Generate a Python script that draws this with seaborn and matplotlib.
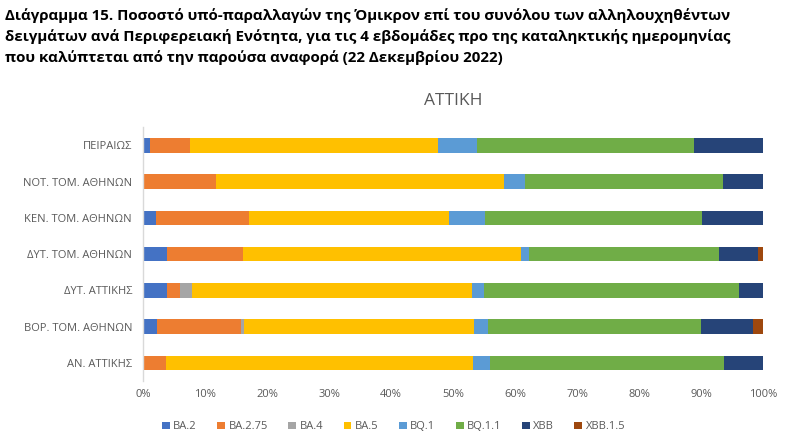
import numpy as np
import pandas as pd
import matplotlib
matplotlib.use("Agg")
import matplotlib.pyplot as plt
import seaborn as sns
from matplotlib.patches import Patch

regions = ["ΠΕΙΡΑΙΩΣ", "ΝΟΤ. ΤΟΜ. ΑΘΗΝΩΝ", "ΚΕΝ. ΤΟΜ. ΑΘΗΝΩΝ", "ΔΥΤ. ΤΟΜ. ΑΘΗΝΩΝ",
           "ΔΥΤ. ΑΤΤΙΚΗΣ", "ΒΟΡ. ΤΟΜ. ΑΘΗΝΩΝ", "ΑΝ. ΑΤΤΙΚΗΣ"]
variants = ["BA.2", "BA.2.75", "BA.4", "BA.5", "BQ.1", "BQ.1.1", "XBB", "XBB.1.5"]

ba2    = [1.1, 0.0, 2.0, 3.9, 3.9, 2.2, 0.0]
ba275  = [6.4, 11.7, 15.0, 12.2, 2.0, 13.5, 3.7]
ba4    = [0.0, 0.0, 0.0, 0.0, 1.9, 0.6, 0.0]
ba5    = [40.0, 46.5, 32.4, 44.9, 45.2, 37.1, 49.5]
bq1    = [6.3, 3.3, 5.8, 1.2, 2.0, 2.2, 2.8]
bq11   = [35.0, 32.0, 35.0, 30.7, 41.1, 34.3, 37.6]
xbb    = [11.2, 6.5, 9.8, 6.3, 3.9, 8.4, 6.4]
xbb15  = [0.0, 0.0, 0.0, 0.8, 0.0, 1.7, 0.0]

colors = ["#4472C4", "#ED7D31", "#A5A5A5", "#FFC000", "#5B9BD5", "#70AD47", "#264478", "#9E480E"]

series = [ba2, ba275, ba4, ba5, bq1, bq11, xbb, xbb15]
vals = np.array(series, dtype=float)
vals = vals / vals.sum(axis=0) * 100.0
cum = np.cumsum(vals, axis=0)

sns.set_style("white")
plt.rcParams['font.family'] = ['Open Sans', 'DejaVu Sans']

fig = plt.figure(figsize=(8, 4.4), dpi=100)
ax = fig.add_axes([0.179, 0.134, 0.775, 0.577])

# overlapping cumulative bars, drawn from the last segment back to the first
for i in range(len(variants) - 1, -1, -1):
    df = pd.DataFrame({"region": regions, "value": cum[i]})
    sns.barplot(data=df, x="value", y="region", orient="h", color=colors[i],
                width=0.4, ax=ax, saturation=1, edgecolor="none", linewidth=0)

ax.set_xlim(0, 100)
ax.set_ylim(6.5, -0.5)
ax.set_xticks(np.arange(0, 101, 10))
ax.set_xticklabels([f"{t}%" for t in range(0, 101, 10)], color="#595959", fontsize=8)
ax.tick_params(axis="y", labelsize=8, labelcolor="#595959", length=0, pad=8)
ax.tick_params(axis="x", length=0, pad=6)
ax.set_xlabel("")
ax.set_ylabel("")
for s in ["top", "right", "bottom"]:
    ax.spines[s].set_visible(False)
ax.spines["left"].set_color("#D9D9D9")
ax.spines["left"].set_linewidth(1.0)

ax.set_title("ΑΤΤΙΚΗ", fontsize=12.5, color="#595959", pad=16)

title = ("Διάγραμμα 15. Ποσοστό υπό-παραλλαγών της Όμικρον επί του συνόλου των αλληλουχηθέντων\n"
         "δειγμάτων ανά Περιφερειακή Ενότητα, για τις 4 εβδομάδες προ της καταληκτικής ημερομηνίας\n"
         "που καλύπτεται από την παρούσα αναφορά (22 Δεκεμβρίου 2022)")
fig.text(0.006, 0.981, title, ha="left", va="top", fontsize=10.9, fontweight="bold",
         color="#000000", linespacing=1.52,
         family=['Open Sans', 'DejaVu Sans'])

handles = [Patch(facecolor=c, edgecolor="none") for c in colors]
fig.legend(handles, variants, loc="center", bbox_to_anchor=(0.492, 0.03), ncol=8,
           frameon=False, fontsize=8, handlelength=0.7, handleheight=0.7,
           handletextpad=0.3, columnspacing=1.85, labelcolor="#595959")

fig.savefig("out.png", dpi=100, facecolor="white")
